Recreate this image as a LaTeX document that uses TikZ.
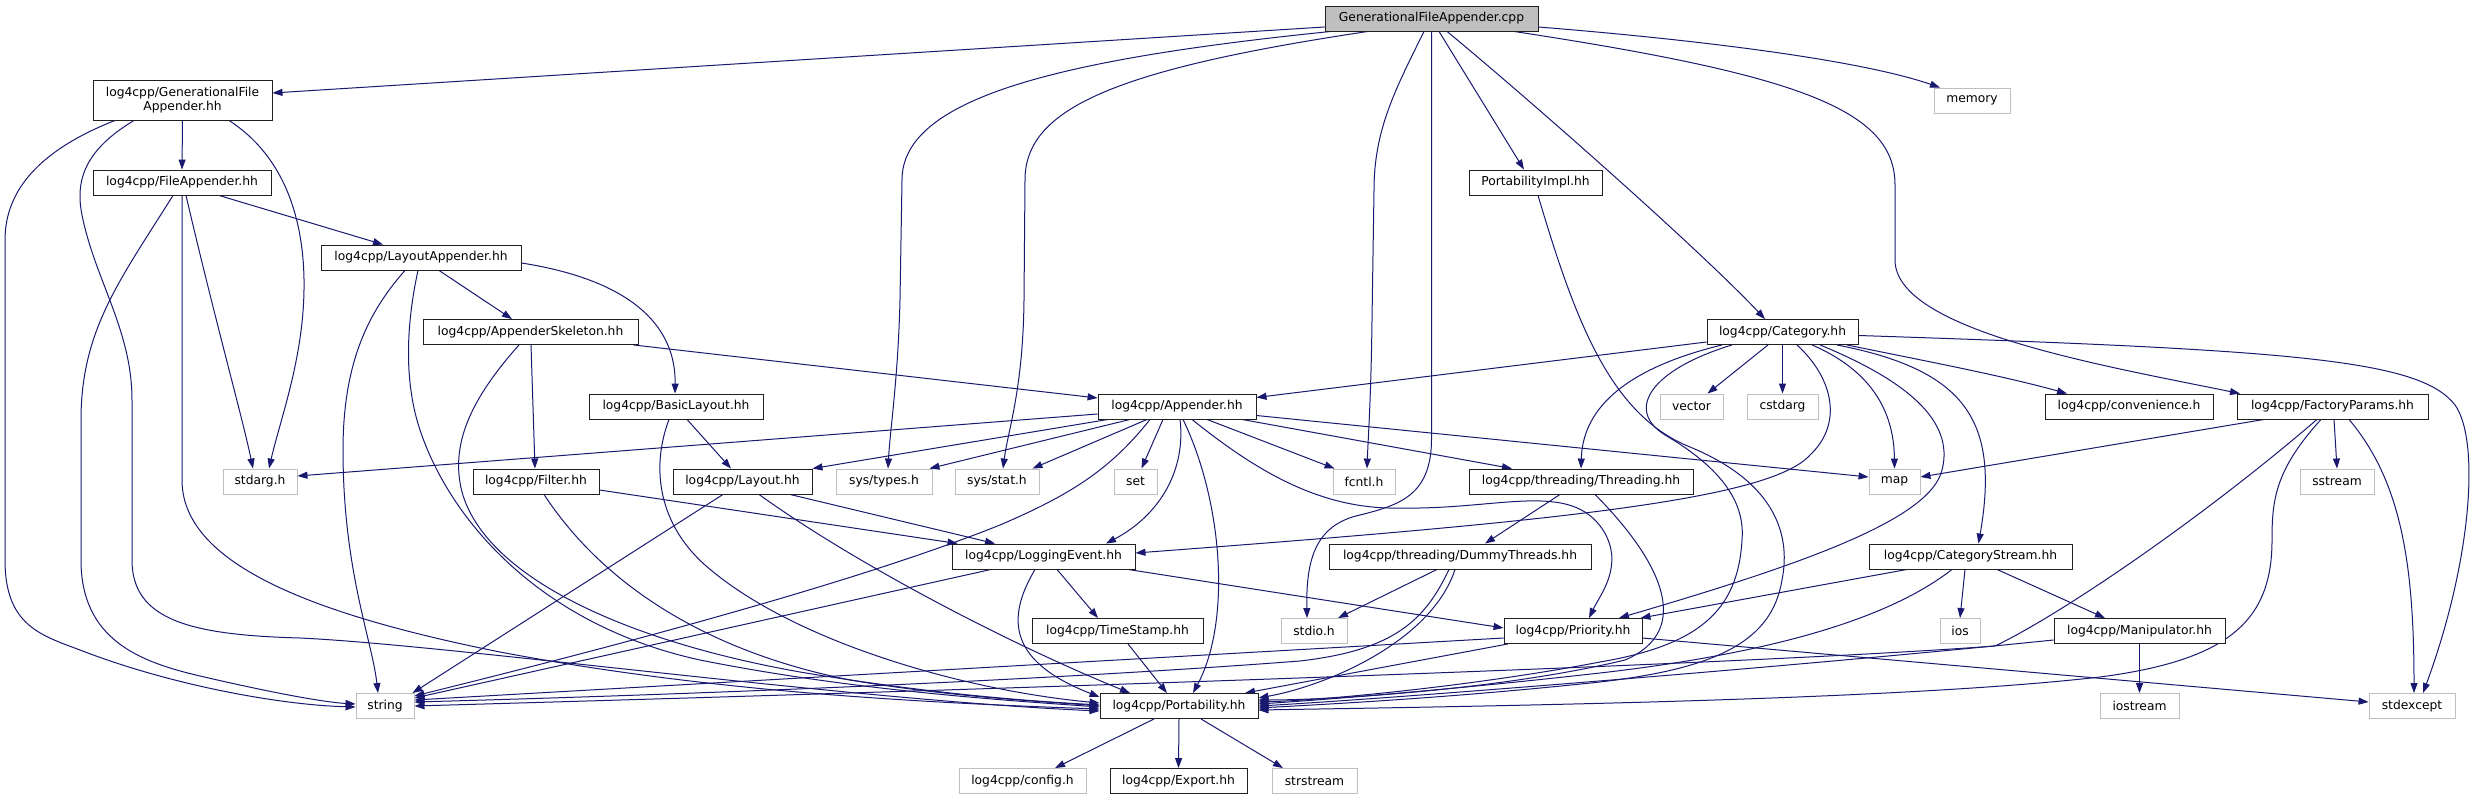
\documentclass[tikz,border=0pt]{standalone}
\usepackage{fontspec}
\setmainfont{DejaVu Sans}
\usetikzlibrary{arrows.meta}
\definecolor{edgec}{HTML}{191970}
\definecolor{grayb}{HTML}{BFBFBF}
\definecolor{boxb}{HTML}{202020}
\pgfdeclarelayer{bg}
\pgfsetlayers{bg,main}
\begin{document}
\begin{tikzpicture}[x=1pt,y=-1pt,
 nb/.style={draw=boxb, line width=0.9pt, fill=white, inner sep=0pt, minimum height=25pt, font=\fontsize{12.3}{14}\selectfont, align=center, text=black},
 ng/.style={nb, draw=grayb},
 nr/.style={nb, fill=grayb},
 dep/.style={draw=edgec, line width=1pt, -{Triangle[length=10pt,width=7pt]}}]
\useasboundingbox (0,0) rectangle (2473,799);
% nodes
\node[nr, minimum width=213pt] (cpp) at (1431.5,18.5) {GenerationalFileAppender.cpp};
\node[nb, minimum width=179pt, minimum height=40pt] (gen) at (182.5,100) {log4cpp/GenerationalFile\\Appender.hh};
\node[ng, minimum width=76pt] (memory) at (1972,100.5) {memory};
\node[nb, minimum width=178pt] (fileapp) at (182,182.5) {log4cpp/FileAppender.hh};
\node[nb, minimum width=133pt] (pimpl) at (1535.5,182.5) {PortabilityImpl.hh};
\node[nb, minimum width=200pt] (layapp) at (421,257.5) {log4cpp/LayoutAppender.hh};
\node[nb, minimum width=215pt] (skel) at (530.5,332) {log4cpp/AppenderSkeleton.hh};
\node[nb, minimum width=151pt] (cat) at (1782.5,332) {log4cpp/Category.hh};
\node[nb, minimum width=174pt] (basic) at (676,406.5) {log4cpp/BasicLayout.hh};
\node[nb, minimum width=158pt] (app) at (1177,406.5) {log4cpp/Appender.hh};
\node[ng, minimum width=63pt] (vector) at (1691.5,406.5) {vector};
\node[ng, minimum width=71pt] (cstdarg) at (1782.5,406.5) {cstdarg};
\node[nb, minimum width=168pt] (conv) at (2129,406.5) {log4cpp/convenience.h};
\node[nb, minimum width=191pt] (factory) at (2332.5,406.5) {log4cpp/FactoryParams.hh};
\node[ng, minimum width=74pt] (stdarg) at (260,481.5) {stdarg.h};
\node[nb, minimum width=126pt] (filter) at (536,481.5) {log4cpp/Filter.hh};
\node[nb, minimum width=139pt] (layout) at (742.5,481.5) {log4cpp/Layout.hh};
\node[ng, minimum width=96pt] (systypes) at (884,481.5) {sys/types.h};
\node[ng, minimum width=84pt] (sysstat) at (997,481.5) {sys/stat.h};
\node[ng, minimum width=43pt] (set) at (1135.5,481.5) {set};
\node[ng, minimum width=62pt] (fcntl) at (1364,481.5) {fcntl.h};
\node[nb, minimum width=224pt] (thread) at (1581,481.5) {log4cpp/threading/Threading.hh};
\node[ng, minimum width=51pt] (map) at (1894.5,481.5) {map};
\node[ng, minimum width=74pt] (sstream) at (2337,481.5) {sstream};
\node[nb, minimum width=183pt] (logev) at (1043.5,556.5) {log4cpp/LoggingEvent.hh};
\node[nb, minimum width=262pt] (dummy) at (1460,556.5) {log4cpp/threading/DummyThreads.hh};
\node[nb, minimum width=203pt] (catstream) at (1970.5,556.5) {log4cpp/CategoryStream.hh};
\node[nb, minimum width=171pt] (timestamp) at (1117.5,631) {log4cpp/TimeStamp.hh};
\node[ng, minimum width=66pt] (stdio) at (1314,631) {stdio.h};
\node[nb, minimum width=138pt] (priority) at (1573,631) {log4cpp/Priority.hh};
\node[ng, minimum width=40pt] (ios) at (1960,631) {ios};
\node[nb, minimum width=171pt] (manip) at (2139.5,631) {log4cpp/Manipulator.hh};
\node[ng, minimum width=58pt] (string) at (385,706) {string};
\node[nb, minimum width=158pt] (port) at (1179,706) {log4cpp/Portability.hh};
\node[ng, minimum width=79pt] (iostream) at (2139.5,706) {iostream};
\node[ng, minimum width=86pt] (stdexcept) at (2412,706) {stdexcept};
\node[ng, minimum width=127pt] (config) at (1022.5,781) {log4cpp/config.h};
\node[nb, minimum width=137pt] (export) at (1178.5,781) {log4cpp/Export.hh};
\node[ng, minimum width=85pt] (strstream) at (1314.5,781) {strstream};
\begin{pgfonlayer}{bg}
\fill[white] (0,0) rectangle (2473,799);
% cpp
\draw[dep] ([yshift=-8.5pt]cpp.west) -- ([yshift=7pt]gen.east);
\draw[dep] ([xshift=-100.5pt]cpp.south) .. controls (1050,60) and (902,100) .. (902,180) -- (900,300) .. controls (898,380) and (890,430) .. ([xshift=4pt]systypes.north);
\draw[dep] ([xshift=-63.5pt]cpp.south) .. controls (1110,70) and (1025,110) .. (1025,180) -- (1024,300) .. controls (1023,390) and (1008,430) .. ([xshift=6pt]sysstat.north);
\draw[dep] ([xshift=-7.5pt]cpp.south) .. controls (1395,90) and (1374,130) .. (1374,190) -- (1372,320) .. controls (1371,400) and (1368,440) .. ([xshift=3pt]fcntl.north);
\draw[dep] (cpp.south) -- (1431.5,440) .. controls (1431,495) and (1400,505) .. (1360,515) .. controls (1315,525) and (1306,560) .. ([xshift=-7pt]stdio.north);
\draw[dep] ([xshift=7.5pt]cpp.south) -- ([xshift=-11.5pt]pimpl.north);
\draw[dep] ([xshift=15.5pt]cpp.south) .. controls (1530,100) and (1700,250) .. ([xshift=-17.5pt]cat.north);
\draw[dep] ([xshift=82.5pt]cpp.south) .. controls (1800,75) and (1895,110) .. (1895,185) -- (1895,260) .. controls (1895,330) and (2100,365) .. ([xshift=-92.5pt]factory.north);
\draw[dep] ([yshift=-8.5pt]cpp.east) .. controls (1700,40) and (1860,60) .. ([xshift=-32pt]memory.north);
% gen
\draw[dep] (gen.south) -- (fileapp.north);
\draw[dep] ([xshift=-67.5pt]gen.south) .. controls (40,150) and (5,190) .. (5,240) -- (5,560) .. controls (5,625) and (40,635) .. (80,650) .. controls (170,685) and (280,705) .. ([yshift=-1pt]string.west);
\draw[dep] ([xshift=-48.5pt]gen.south) .. controls (85,150) and (75,180) .. (82,215) .. controls (95,280) and (132,330) .. (132,400) -- (132,560) .. controls (132,620) and (190,635) .. (300,638) .. controls (450,645) and (850,700) .. ([yshift=-5pt]port.west);
\draw[dep] ([xshift=46.5pt]gen.south) .. controls (290,160) and (305,230) .. (304,290) .. controls (303,360) and (280,420) .. ([xshift=9pt]stdarg.north);
% fileapp
\draw[dep] ([xshift=-9pt]fileapp.south) .. controls (120,280) and (81,330) .. (81,420) -- (81,560) .. controls (81,640) and (140,662) .. (200,676) .. controls (260,690) and (320,702) .. ([yshift=2pt]string.west);
\draw[dep] (fileapp.south) -- (182,480) .. controls (182,560) and (300,612) .. (500,652) .. controls (700,690) and (900,702) .. ([yshift=-3pt]port.west);
\draw[dep] ([xshift=4pt]fileapp.south) .. controls (215,320) and (243,420) .. ([xshift=-7pt]stdarg.north);
\draw[dep] ([xshift=37pt]fileapp.south) -- ([xshift=-38pt]layapp.north);
% layapp
\draw[dep] ([xshift=18pt]layapp.south) -- ([xshift=-18.5pt]skel.north);
\draw[dep] ([yshift=-5.5pt]layapp.east) .. controls (630,280) and (676,325) .. ([xshift=-1pt]basic.north);
\draw[dep] ([xshift=-16pt]layapp.south) .. controls (370,310) and (343,360) .. (343,450) .. controls (343,570) and (372,640) .. ([xshift=-7pt]string.north);
\draw[dep] ([xshift=-3pt]layapp.south) .. controls (405,330) and (405,385) .. (420,430) .. controls (450,520) and (540,625) .. (700,660) .. controls (850,690) and (1000,700) .. ([yshift=-1pt]port.west);
% skel
\draw[dep] ([xshift=0.5pt]skel.south) -- ([xshift=-1pt]filter.north);
\draw[dep] ([xshift=-11.5pt]skel.south) .. controls (470,400) and (450,445) .. (462,492) .. controls (485,575) and (620,640) .. (800,672) .. controls (950,697) and (1050,702) .. ([yshift=1pt]port.west);
\draw[dep] ([xshift=-5pt]skel.south east) -- ([yshift=8.5pt]app.west);
% basic
\draw[dep] ([xshift=11pt]basic.south) -- ([xshift=-11.5pt]layout.north);
\draw[dep] ([xshift=-7pt]basic.south) .. controls (650,470) and (660,525) .. (705,565) .. controls (790,640) and (960,690) .. ([yshift=3pt]port.west);
% filter
\draw[dep] ([yshift=-8.5pt]filter.east) -- ([xshift=6pt]logev.north west);
\draw[dep] ([xshift=8pt]filter.south) .. controls (600,580) and (700,650) .. (850,680) .. controls (950,697) and (1050,702) .. (port.west);
% layout
\draw[dep] ([xshift=-19.5pt]layout.south) -- ([xshift=-2pt]string.north east);
\draw[dep] ([xshift=47.5pt]layout.south) -- ([xshift=-48.5pt]logev.north);
\draw[dep] ([xshift=16.5pt]layout.south) .. controls (850,560) and (1000,640) .. ([xshift=-49pt]port.north);
% app
\draw[dep] ([yshift=-7.5pt]app.west) -- ([yshift=5.5pt]stdarg.east);
\draw[dep] ([xshift=-69pt]app.south) -- (layout.north east);
\draw[dep] ([xshift=-47pt]app.south) -- ([xshift=-3pt]systypes.north east);
\draw[dep] ([xshift=-30pt]app.south) -- ([xshift=-7pt]sysstat.north east);
\draw[dep] ([xshift=-14pt]app.south) -- ([xshift=6pt]set.north);
\draw[dep] ([xshift=-27pt]app.south) .. controls (1110,470) and (1070,495) .. (1000,525) .. controls (850,585) and (600,650) .. ([yshift=10pt]string.east);
\draw[dep] ([xshift=3pt]app.south) .. controls (1186,470) and (1160,515) .. ([xshift=62.5pt]logev.north);
\draw[dep] ([xshift=6pt]app.south) .. controls (1222,500) and (1232,620) .. ([xshift=14pt]port.north);
\draw[dep] ([xshift=30pt]app.south) -- ([xshift=2pt]fcntl.north west);
\draw[dep] ([xshift=65pt]app.south) -- ([xshift=-69pt]thread.north);
\draw[dep] ([xshift=15pt]app.south) .. controls (1255,470) and (1320,510) .. (1400,508) .. controls (1500,510) and (1570,480) .. (1603,530) .. controls (1625,565) and (1600,595) .. ([xshift=16pt]priority.north);
\draw[dep] ([yshift=-9pt]app.east) -- ([yshift=4.5pt]map.west);
% cat
\draw[dep] ([yshift=-10pt]cat.west) -- ([yshift=9pt]app.east);
\draw[dep] ([xshift=-60.5pt]cat.south) .. controls (1640,365) and (1583,400) .. (thread.north);
\draw[dep] ([xshift=-50.5pt]cat.south) .. controls (1650,370) and (1625,410) .. (1665,435) .. controls (1725,470) and (1745,505) .. (1742,540) .. controls (1738,610) and (1700,645) .. (1600,662) .. controls (1480,685) and (1330,700) .. ([yshift=4pt]port.east);
\draw[dep] ([xshift=-14.5pt]cat.south) -- ([xshift=16pt]vector.north);
\draw[dep] (cat.south) -- (cstdarg.north);
\draw[dep] ([xshift=14.5pt]cat.south) .. controls (1835,380) and (1842,425) .. (1810,455) .. controls (1770,500) and (1550,522) .. ([yshift=3.5pt]logev.east);
\draw[dep] ([xshift=29.5pt]cat.south) .. controls (1870,370) and (1894,410) .. (map.north);
\draw[dep] ([xshift=37.5pt]cat.south) .. controls (1905,380) and (1955,420) .. (1942,470) .. controls (1930,520) and (1800,565) .. ([xshift=46pt]priority.north);
\draw[dep] ([xshift=54.5pt]cat.south) .. controls (1965,370) and (2000,420) .. ([xshift=8pt]catstream.north);
\draw[dep] ([xshift=64.5pt]cat.south) .. controls (1920,360) and (2000,375) .. ([xshift=-62pt]conv.north);
\draw[dep] ([yshift=-3.5pt]cat.east) .. controls (2300,350) and (2420,360) .. (2455,405) .. controls (2480,440) and (2472,560) .. ([xshift=11pt]stdexcept.north);
% pimpl
\draw[dep] ([xshift=2.5pt]pimpl.south) .. controls (1575,320) and (1610,415) .. (1690,447) .. controls (1770,480) and (1792,530) .. (1782,580) .. controls (1772,640) and (1720,668) .. (1600,682) .. controls (1450,698) and (1330,704) .. ([yshift=-2pt]port.east);
% factory
\draw[dep] ([xshift=-68.5pt]factory.south) -- ([yshift=4.5pt]map.east);
\draw[dep] ([xshift=1.5pt]factory.south) -- (sstream.north);
\draw[dep] ([xshift=16.5pt]factory.south) .. controls (2400,480) and (2414,560) .. ([xshift=2pt]stdexcept.north);
\draw[dep] ([xshift=-15.5pt]factory.south) .. controls (2200,520) and (2060,615) .. (1995,646) .. controls (1700,668) and (800,695) .. (string.east);
\draw[dep] ([xshift=-11.5pt]factory.south) .. controls (2275,470) and (2272,500) .. (2272,540) .. controls (2272,620) and (2230,660) .. (2100,677) .. controls (1900,700) and (1500,706) .. ([yshift=-4pt]port.east);
% manip
\draw[dep] (manip.south) -- (iostream.north);
\draw[dep] ([yshift=-9pt]manip.west) .. controls (1800,666) and (1400,698) .. (port.east);
% catstream
\draw[dep] ([xshift=-5.5pt]catstream.south) -- (ios.north);
\draw[dep] ([xshift=26.5pt]catstream.south) -- ([xshift=-34.5pt]manip.north);
\draw[dep] ([xshift=-63.5pt]catstream.south) -- ([xshift=-2pt]priority.north east);
\draw[dep] ([xshift=-18.5pt]catstream.south) .. controls (1900,610) and (1800,650) .. (1600,673) .. controls (1450,690) and (1320,700) .. ([yshift=2pt]port.east);
% thread
\draw[dep] ([xshift=-21pt]thread.south) -- ([xshift=25pt]dummy.north);
\draw[dep] ([xshift=14pt]thread.south) .. controls (1660,560) and (1695,630) .. (1625,660) .. controls (1500,690) and (1330,700) .. ([yshift=6pt]port.east);
% dummy
\draw[dep] ([xshift=-23pt]dummy.south) -- ([xshift=24pt]stdio.north);
\draw[dep] ([xshift=-11pt]dummy.south) .. controls (1425,620) and (1395,650) .. (1300,661) .. controls (1000,684) and (600,697) .. ([yshift=4pt]string.east);
\draw[dep] ([xshift=-5pt]dummy.south) .. controls (1432,640) and (1330,685) .. ([yshift=8pt]port.east);
% priority
\draw[dep] ([yshift=-7pt]priority.west) -- ([yshift=6pt]string.east);
\draw[dep] ([xshift=-65pt]priority.south) -- ([xshift=66pt]port.north);
\draw[dep] ([yshift=-7pt]priority.east) -- ([yshift=4pt]stdexcept.west);
% logev
\draw[dep] ([xshift=-52.5pt]logev.south) -- ([yshift=8pt]string.east);
\draw[dep] ([xshift=13.5pt]logev.south) -- ([xshift=-19.5pt]timestamp.north);
\draw[dep] ([xshift=-8.5pt]logev.south) .. controls (1005,620) and (1010,662) .. ([yshift=9pt]port.west);
\draw[dep] ([xshift=84.5pt]logev.south) -- ([yshift=3pt]priority.west);
% timestamp
\draw[dep] ([xshift=10.5pt]timestamp.south) -- ([xshift=-12pt]port.north);
% port
\draw[dep] ([xshift=-25pt]port.south) -- ([xshift=32.5pt]config.north);
\draw[dep] (port.south) -- (export.north);
\draw[dep] ([xshift=22pt]port.south) -- ([xshift=-31.5pt]strstream.north);
\end{pgfonlayer}
\end{tikzpicture}
\end{document}
